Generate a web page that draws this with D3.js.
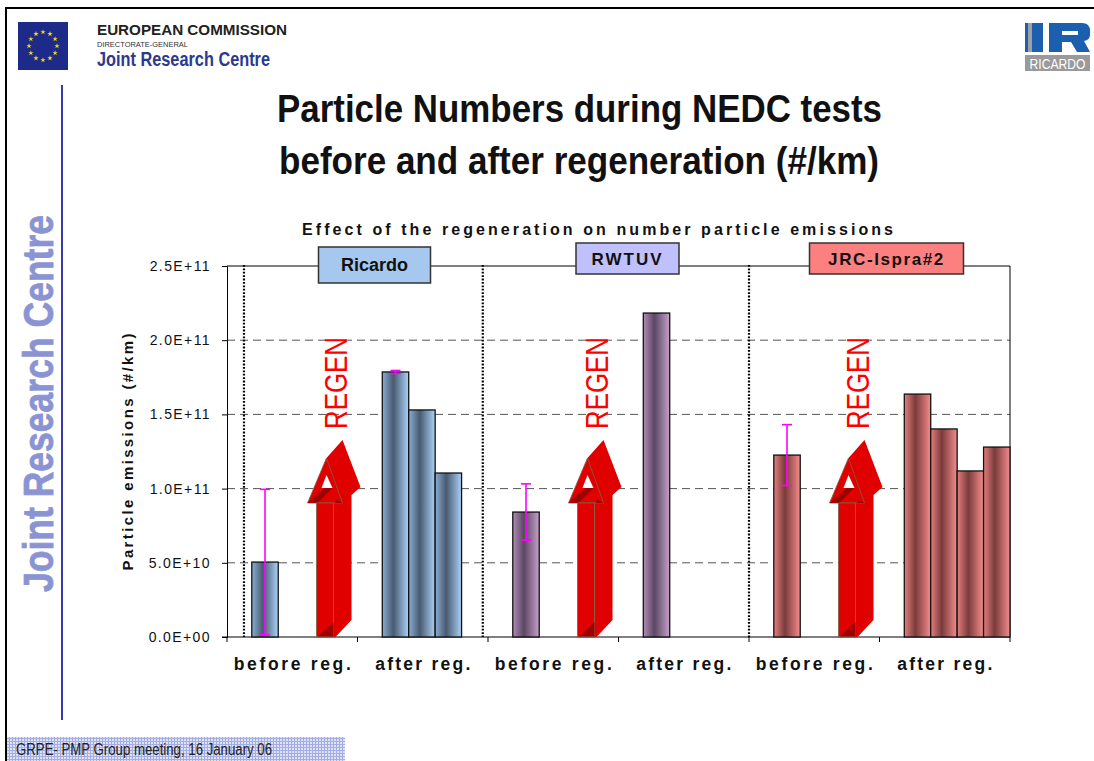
<!DOCTYPE html>
<html>
<head>
<meta charset="utf-8">
<script src="https://cdn.jsdelivr.net/npm/d3@7"></script>
<style>
  body { margin: 0; background: #fff; }
  text { font-family: "Liberation Sans", Arial, sans-serif; }
  .narrow { font-family: "Liberation Sans Narrow", "Arial Narrow", "Liberation Sans", sans-serif; }
</style>
</head>
<body>
<svg id="slide"></svg>
<script>
const width = 1094;
const height = 761;

// chart data
const categories = ["before reg.", "after reg.", "before reg.", "after reg.", "before reg.", "after reg."];
const groups = ["Ricardo", "RWTUV", "JRC-Ispra#2"];
const barValues = [
  [5.05e10],
  [1.786e11, 1.530e11, 1.105e11],
  [8.42e10],
  [2.183e11],
  [1.226e11],
  [1.637e11, 1.402e11, 1.119e11, 1.280e11]
];
// error on the first bar of each category
const errorValues = [4.9e10, 1e9, 1.9e10, 0, 2.05e10, 0];
const yTicks = [0, 5e10, 1e11, 1.5e11, 2e11, 2.5e11];
const yTickLabels = ["0.0E+00", "5.0E+10", "1.0E+11", "1.5E+11", "2.0E+11", "2.5E+11"];

const svg = d3.select("#slide")
  .attr("width", width)
  .attr("height", height);

const defs = svg.append("defs");

// bar gradients: light edges, dark middle
const gradStops = [
  ["#8aaed3", "#485a70", "#abd2f8"],
  ["#b28cb6", "#5a4763", "#c89fcb"],
  ["#e67e7e", "#7a3b3b", "#f68c8c"]
];
gradStops.forEach((s, i) => {
  const g = defs.append("linearGradient").attr("id", "grad" + i)
    .attr("x1", 0).attr("x2", 1).attr("y1", 0).attr("y2", 0);
  g.append("stop").attr("offset", "0%").attr("stop-color", s[0]);
  g.append("stop").attr("offset", "42%").attr("stop-color", s[1]);
  g.append("stop").attr("offset", "100%").attr("stop-color", s[2]);
});

const pat = defs.append("pattern").attr("id", "footgrid")
  .attr("width", 3).attr("height", 3).attr("patternUnits", "userSpaceOnUse");
pat.append("rect").attr("width", 3).attr("height", 3).attr("fill", "#dde2f6");
pat.append("path").attr("d", "M0 0.5H3M0.5 0V3").attr("stroke", "#a3ade3").attr("stroke-width", 1);

// ---- slide frame / logos
svg.append("path").attr("d", "M6 761V8H1094").attr("fill", "none")
  .attr("stroke", "#000").attr("stroke-width", 2);

svg.append("line").attr("x1", 62).attr("x2", 62).attr("y1", 85).attr("y2", 720)
  .attr("stroke", "#3a3aa6").attr("stroke-width", 2);

svg.append("text").attr("class", "narrow")
  .attr("transform", "translate(53,592) rotate(-90)")
  .attr("font-size", 43).attr("font-weight", "bold").attr("fill", "#8a94d2")
  .attr("stroke", "#8a94d2").attr("stroke-width", 0.8)
  .attr("textLength", 377).attr("lengthAdjust", "spacingAndGlyphs")
  .text("Joint Research Centre");

// EU flag
svg.append("rect").attr("x", 18).attr("y", 22).attr("width", 50).attr("height", 48).attr("fill", "#1d2a8a");
svg.append("g").selectAll("path")
  .data(d3.range(12))
  .join("path")
  .attr("d", d3.symbol(d3.symbolStar, 9))
  .attr("transform", d => {
    const a = d / 12 * 2 * Math.PI;
    return `translate(${43 + 14 * Math.cos(a)},${46 + 14 * Math.sin(a)})`;
  })
  .attr("fill", "#f5d90a");

svg.append("text").attr("x", 97).attr("y", 35).attr("font-size", 15).attr("font-weight", "bold")
  .attr("fill", "#222").attr("textLength", 190).attr("lengthAdjust", "spacingAndGlyphs")
  .text("EUROPEAN COMMISSION");
svg.append("text").attr("x", 97).attr("y", 47).attr("font-size", 6.5).attr("fill", "#333")
  .attr("textLength", 91).attr("lengthAdjust", "spacingAndGlyphs")
  .text("DIRECTORATE-GENERAL");
svg.append("text").attr("class", "narrow").attr("x", 97).attr("y", 66).attr("font-size", 20)
  .attr("font-weight", "bold").attr("fill", "#2b3990")
  .attr("textLength", 173).attr("lengthAdjust", "spacingAndGlyphs")
  .text("Joint Research Centre");

// Ricardo logo
const logo = svg.append("g");
logo.append("rect").attr("x", 1025).attr("y", 23).attr("width", 18).attr("height", 29).attr("fill", "#1c5fae");
logo.append("rect").attr("x", 1028).attr("y", 23).attr("width", 4).attr("height", 29).attr("fill", "#a0a0a0");
logo.append("path")
  .attr("d", "M1049 23H1082Q1090 23 1090 31V35Q1090 40 1084 41L1090 52H1077L1071 42H1062V52H1049Z")
  .attr("fill", "#1c5fae");
logo.append("rect").attr("x", 1062).attr("y", 31).attr("width", 16).attr("height", 4).attr("fill", "#fff");
logo.append("rect").attr("x", 1025).attr("y", 55).attr("width", 65).attr("height", 16).attr("fill", "#9a9a9a");
logo.append("text").attr("class", "narrow").attr("x", 1057.5).attr("y", 68.5)
  .attr("text-anchor", "middle").attr("font-size", 14).attr("fill", "#fff")
  .attr("textLength", 56).attr("lengthAdjust", "spacingAndGlyphs")
  .text("RICARDO");

// footer
svg.append("rect").attr("x", 7).attr("y", 737).attr("width", 338).attr("height", 24).attr("fill", "url(#footgrid)");
svg.append("text").attr("class", "narrow").attr("x", 16).attr("y", 755).attr("font-size", 16)
  .attr("fill", "#222").attr("textLength", 256).attr("lengthAdjust", "spacingAndGlyphs")
  .text("GRPE- PMP Group meeting, 16 January 06");

// titles
svg.append("text").attr("class", "narrow").attr("x", 579.5).attr("y", 122)
  .attr("text-anchor", "middle").attr("font-size", 38).attr("font-weight", "bold").attr("fill", "#111")
  .attr("textLength", 605).attr("lengthAdjust", "spacingAndGlyphs")
  .text("Particle Numbers during NEDC tests");
svg.append("text").attr("class", "narrow").attr("x", 579).attr("y", 174)
  .attr("text-anchor", "middle").attr("font-size", 38).attr("font-weight", "bold").attr("fill", "#111")
  .attr("textLength", 600).attr("lengthAdjust", "spacingAndGlyphs")
  .text("before and after regeneration (#/km)");

svg.append("text").attr("x", 302).attr("y", 235).attr("font-size", 16).attr("font-weight", "bold")
  .attr("fill", "#111").attr("textLength", 591)
  .text("Effect of the regeneration on number particle emissions");

// ---- chart
const x = d3.scaleBand().domain(d3.range(categories.length)).range([227, 1010]).padding(0);
const sub = d3.scaleBand().domain(d3.range(4)).range([x.bandwidth() * 0.19, x.bandwidth()]);
const y = d3.scaleLinear().domain([0, 2.5e11]).range([637, 266]);
const xu = d3.scaleLinear().domain([0, categories.length]).range([227, 1010]);

const chart = svg.append("g");

// dashed grid
chart.append("g").selectAll("line")
  .data(yTicks.slice(1, -1))
  .join("line")
  .attr("x1", 227).attr("x2", 1010)
  .attr("y1", d => y(d)).attr("y2", d => y(d))
  .attr("stroke", "#555").attr("stroke-dasharray", "8,5");

// dotted separators (in category units)
const separatorAt = [0.13, 1.96, 4.0];
chart.append("g").selectAll("line")
  .data(separatorAt)
  .join("line")
  .attr("x1", d => xu(d)).attr("x2", d => xu(d))
  .attr("y1", 265).attr("y2", y(0))
  .attr("stroke", "#000").attr("stroke-width", 2.2).attr("stroke-dasharray", "1.8,1.6");

// frame top/right
chart.append("path").attr("d", `M227 ${y(2.5e11)}H1010V${y(0)}`)
  .attr("fill", "none").attr("stroke", "#000");

// y axis
const yAxis = chart.append("g").attr("transform", "translate(227,0)")
  .call(d3.axisLeft(y).tickValues(yTicks).tickFormat((d, i) => yTickLabels[i]).tickSize(5).tickPadding(11));
yAxis.selectAll("text").attr("font-size", 14).attr("fill", "#111")
  .attr("font-family", "'Liberation Sans', Arial, sans-serif").attr("letter-spacing", "1.4px");
yAxis.selectAll("line, path").attr("stroke", "#000");

// x axis line and boundary ticks
chart.append("line").attr("x1", 222).attr("x2", 1010).attr("y1", y(0)).attr("y2", y(0)).attr("stroke", "#000");
chart.append("g").selectAll("line")
  .data(d3.range(categories.length + 1))
  .join("line")
  .attr("x1", d => xu(d)).attr("x2", d => xu(d))
  .attr("y1", y(0)).attr("y2", y(0) + 5)
  .attr("stroke", "#000");

const xLabelLen = { "before reg.": 117, "after reg.": 95 };
chart.append("g").selectAll("text")
  .data(categories)
  .join("text")
  .attr("x", (d, i) => x(i) + x.bandwidth() / 2)
  .attr("y", 670)
  .attr("text-anchor", "middle")
  .attr("font-size", 17.5).attr("font-weight", "bold").attr("fill", "#111")
  .attr("textLength", d => xLabelLen[d])
  .text(d => d);

svg.append("text")
  .attr("transform", "translate(133,452) rotate(-90)")
  .attr("text-anchor", "middle").attr("font-size", 15).attr("font-weight", "bold").attr("fill", "#111")
  .attr("textLength", 237)
  .text("Particle emissions (#/km)");

// bars
const barData = barValues.flatMap((vals, i) => vals.map((v, j) => ({ cat: i, j, v })));
chart.append("g").selectAll("rect")
  .data(barData)
  .join("rect")
  .attr("x", d => x(d.cat) + sub(d.j))
  .attr("width", sub.bandwidth())
  .attr("y", d => y(d.v))
  .attr("height", d => y(0) - y(d.v))
  .attr("fill", d => `url(#grad${Math.floor(d.cat / 2)})`)
  .attr("stroke", "#111").attr("stroke-width", 1.3);

// error bars
const errData = errorValues.map((e, i) => ({ cat: i, v: barValues[i][0], e })).filter(d => d.e > 0);
const eg = chart.append("g").attr("stroke", "#ff00ff").attr("stroke-width", 1.6);
errData.forEach(d => {
  const cx = x(d.cat) + sub(0) + sub.bandwidth() / 2;
  const lo = y(Math.max(0, d.v - d.e)), hi = y(d.v + d.e);
  eg.append("line").attr("x1", cx).attr("x2", cx).attr("y1", lo).attr("y2", hi);
  eg.append("line").attr("x1", cx - 5).attr("x2", cx + 5).attr("y1", lo).attr("y2", lo);
  eg.append("line").attr("x1", cx - 5).attr("x2", cx + 5).attr("y1", hi).attr("y2", hi);
});

// REGEN arrows, one per group, just left of the "after" category
function drawArrow(g, x0, y0) {
  const pts = a => a.map(p => [x0 + p[0], y0 + p[1]].join(",")).join(" ");
  const edge = "#7a6444";
  g.append("polygon").attr("points", pts([[10, -179], [26, -197], [44, -150], [35, -142], [35, -17], [19, 0], [17, 0], [17, -134]]))
    .attr("fill", "#e00000");
  g.append("polygon").attr("points", pts([[-9, -134], [10, -179], [26, -134]]))
    .attr("fill", "#e00000").attr("stroke", edge).attr("stroke-width", 0.8);
  g.append("polygon").attr("points", pts([[10, -162], [5, -149], [16, -149]])).attr("fill", "#fff");
  g.append("polygon").attr("points", pts([[-9, -134], [1, -134], [16, -149], [8, -149]])).attr("fill", "#9e0000");
  g.append("polygon").attr("points", pts([[19, -138], [26, -134], [19, -134]])).attr("fill", "#9e0000");
  g.append("rect").attr("x", x0).attr("y", y0 - 134).attr("width", 17).attr("height", 134)
    .attr("fill", "#e00000").attr("stroke", edge).attr("stroke-width", 0.8);
  g.append("polygon").attr("points", pts([[1, 0], [17, 0], [17, -15]])).attr("fill", "#9e0000");
  g.append("line").attr("x1", x0).attr("x2", x0 + 17).attr("y1", y0).attr("y2", y0)
    .attr("stroke", edge).attr("stroke-width", 1);
}

const labelOffset = [17, 9, 7];
groups.forEach((name, gi) => {
  const afterIdx = gi * 2 + 1;
  const ax = x(afterIdx) - 41;
  drawArrow(chart.append("g"), ax, y(0));
  chart.append("text").attr("class", "narrow")
    .attr("transform", `translate(${ax + 30},429) rotate(-90)`)
    .attr("font-size", 32).attr("fill", "#ff0000")
    .attr("textLength", 92).attr("lengthAdjust", "spacingAndGlyphs")
    .text("REGEN");
});

// group label boxes
const boxSpec = [
  { w: 112, h: 36, cy: 265, fs: 18, ls: 0, fill: "#a6c8ef" },
  { w: 103, h: 31, cy: 258.5, fs: 17, ls: 2, fill: "#c0c0fc" },
  { w: 154, h: 31, cy: 258.5, fs: 17, ls: 1.6, fill: "#fc8080" }
];
groups.forEach((name, gi) => {
  const s = boxSpec[gi];
  const cx = x(gi * 2 + 1) + labelOffset[gi];
  chart.append("rect")
    .attr("x", cx - s.w / 2).attr("y", s.cy - s.h / 2)
    .attr("width", s.w).attr("height", s.h)
    .attr("fill", s.fill).attr("stroke", "#333").attr("stroke-width", 1.5);
  chart.append("text")
    .attr("x", cx).attr("y", s.cy + s.fs * 0.36)
    .attr("text-anchor", "middle")
    .attr("font-size", s.fs).attr("font-weight", "bold").attr("fill", "#111")
    .attr("letter-spacing", s.ls + "px")
    .text(name);
});
</script>
</body>
</html>
